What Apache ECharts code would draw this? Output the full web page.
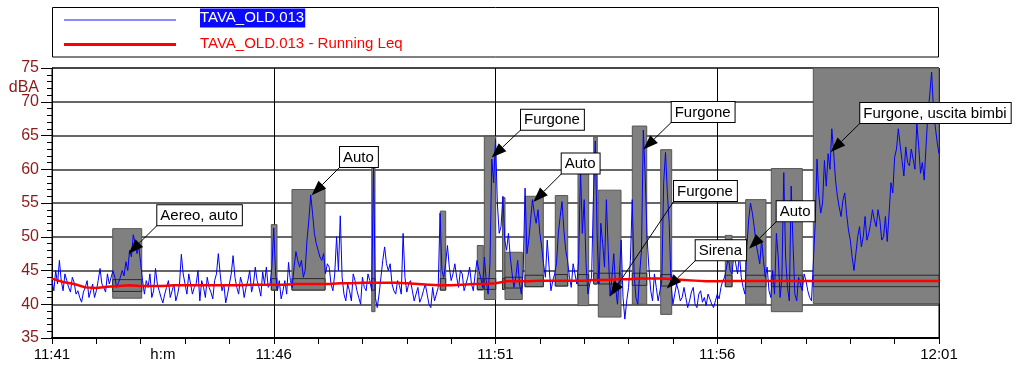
<!DOCTYPE html>
<html><head><meta charset="utf-8">
<script src="https://cdn.jsdelivr.net/npm/echarts@6/dist/echarts.min.js"></script>
<style>html,body{margin:0;padding:0;background:#fff}#c{width:1024px;height:369px}</style>
</head><body><div id="c"></div>
<script>
// ---- data (time in minutes from 11:41) ----
const levelStepMin = 2.5 / 60;
const levelValues = [
43.5,42.0,45.0,43.0,46.5,43.5,42.0,44.5,43.5,42.5,41.8,44.0,43.2,41.5,42.0,41.0,40.3,41.8,42.5,43.5,
41.0,42.0,43.0,41.0,42.0,43.5,45.3,43.0,42.5,41.8,44.5,43.0,42.8,45.0,44.0,42.5,43.2,44.0,45.0,44.2,
46.3,45.0,48.0,47.0,50.3,49.0,47.5,48.5,46.0,43.5,41.5,43.5,42.5,44.5,41.0,42.0,45.3,43.0,42.0,41.0,
40.2,41.5,42.5,43.5,41.0,42.0,43.0,40.5,41.5,43.0,47.4,44.5,43.0,41.5,44.5,43.0,41.5,42.5,43.0,45.0,
40.5,43.5,42.5,41.0,44.0,42.5,41.8,40.8,43.5,44.5,47.5,44.5,42.0,43.0,40.2,41.5,43.0,44.5,47.2,44.0,
42.5,41.5,44.0,43.0,41.0,42.5,43.5,45.0,41.8,43.0,45.5,43.5,42.5,41.2,44.8,43.0,45.5,42.5,43.0,45.5,
51.3,44.5,42.0,43.5,40.8,42.0,43.5,41.5,46.2,43.5,42.5,45.5,47.8,46.5,45.5,46.5,44.0,45.0,49.5,52.5,
56.2,53.5,50.5,49.0,48.0,47.0,46.5,47.5,44.5,46.0,45.5,43.0,42.0,44.5,50.0,45.0,53.1,44.0,41.5,40.5,
43.0,42.0,40.5,44.5,43.5,42.0,41.0,40.0,44.0,42.5,42.0,44.5,43.5,42.0,60.5,41.0,39.5,41.5,44.0,46.5,
48.5,46.0,45.0,46.0,43.0,42.0,41.5,43.5,42.8,41.5,50.5,44.0,41.8,43.0,43.5,42.0,40.5,41.5,42.5,40.3,
41.0,42.0,43.0,41.5,40.0,39.5,42.5,40.5,41.5,42.5,53.5,45.0,44.0,46.0,48.7,45.5,43.5,44.5,46.0,44.0,
42.5,45.0,44.5,42.0,43.0,44.0,45.5,43.0,42.0,44.5,46.5,45.0,44.0,42.5,47.0,43.5,41.5,46.0,61.5,58.0,
64.5,55.0,50.5,51.5,56.0,49.5,48.0,50.5,47.0,44.5,42.5,44.0,46.5,43.0,41.5,45.0,57.2,47.5,49.5,52.5,
55.5,53.5,52.0,54.0,50.5,48.5,46.0,44.0,49.5,45.5,42.0,43.5,44.5,46.0,50.5,53.0,55.2,51.0,48.0,46.5,
44.0,42.5,46.0,44.5,43.0,46.5,60.0,50.5,55.5,46.0,41.5,43.0,44.0,56.0,64.2,50.0,43.0,52.0,49.0,45.5,
55.5,48.0,41.2,44.0,47.5,42.5,40.0,44.0,49.5,41.0,37.8,40.5,42.5,46.5,55.5,44.5,41.0,40.0,44.5,48.0,
65.8,59.0,50.0,45.5,42.0,40.5,44.5,42.5,40.5,42.0,43.5,58.0,62.5,56.5,52.0,43.0,40.0,41.5,43.0,42.0,
40.5,41.0,42.5,41.0,39.5,40.5,41.8,42.5,40.0,39.5,41.5,42.0,40.3,41.0,39.8,41.5,40.8,40.0,39.5,40.5,
41.5,40.8,42.5,43.5,44.0,45.5,47.0,45.0,44.5,47.5,46.0,44.5,47.3,44.0,42.5,41.5,48.5,52.5,55.0,53.5,
51.5,49.0,47.5,46.0,49.5,46.5,44.0,45.5,42.0,41.0,45.0,41.5,50.5,47.0,41.0,44.0,59.5,47.0,42.5,40.5,
57.5,49.0,41.5,40.5,44.0,43.0,42.0,44.5,43.5,42.0,41.0,40.5,40.7,52.0,61.5,56.0,53.5,55.0,61.3,57.5,
62.3,60.0,66.0,62.5,58.4,56.0,54.4,53.0,55.4,56.5,53.4,51.0,49.5,47.0,45.0,47.5,50.0,51.5,48.5,50.0,
53.0,49.5,50.5,52.0,54.0,52.5,51.5,54.0,52.5,49.5,50.0,53.0,49.3,53.5,58.0,56.5,61.8,63.0,66.0,63.5,
61.3,59.0,63.3,61.0,60.5,63.0,62.8,60.0,66.8,63.5,59.4,61.0,58.4,63.5,68.3,71.0,74.4,69.0,66.3,64.0,
62.3
];
const leqStepMin = 15 / 60;
const leqValues = [
43.8,43.3,43.0,42.5,42.4,42.6,42.7,42.8,42.7,42.7,
42.7,42.8,42.8,42.8,42.8,42.8,42.8,42.8,42.9,42.9,
42.9,42.9,43.0,43.0,43.0,43.0,43.1,43.1,43.2,43.2,
43.2,43.2,43.1,43.0,42.9,42.8,42.8,42.9,43.0,43.0,
43.1,43.4,43.4,43.4,43.5,43.5,43.5,43.5,43.5,43.6,
43.6,43.7,43.7,43.8,43.8,43.8,43.7,43.6,43.5,43.4,
43.4,43.45,43.45,43.45,43.45,43.45,43.45,43.45,43.45,43.45,
43.45,43.45,43.45,43.45,43.45,43.45,43.45,43.45,43.45,43.45,
43.45
];
// event boxes
const boxStart = [1.369,4.945,5.411,7.209,8.755,9.590,9.748,10.158,10.214,10.665,11.348,11.860,12.214,12.318,13.085,13.725,15.182,15.641,16.219,17.166];
const boxEnd   = [2.023,5.073,6.156,7.283,8.877,9.725,10.005,10.214,10.604,11.078,11.628,12.101,12.295,12.830,13.410,13.973,15.333,16.099,16.918,20.0];
const boxLow   = [40.9,42.1,42.1,38.9,42.1,42.1,40.7,42.2,40.7,42.6,42.7,39.8,43.0,38.1,40.0,38.5,42.6,40.0,38.9,40.1];
const boxHigh  = [51.2,51.8,57.0,60.3,53.8,48.7,64.9,55.8,47.7,56.0,56.1,59.5,64.8,56.9,66.4,62.9,50.2,55.5,60.1,75.0];
const bandLow  = [41.9,42.1,42.1,42.1,42.1,42.2,42.2,42.2,42.4,42.6,42.7,42.8,43.0,43.0,42.8,42.7,42.6,42.6,42.6,42.6];
const bandHigh = [43.65,43.8,43.8,43.8,43.8,43.8,43.8,43.8,44.0,44.3,44.4,44.4,44.6,44.6,44.6,44.4,44.3,44.3,44.3,44.3];
// annotations
const noteText = ['Aereo, auto','Auto','Furgone','Auto','Furgone','Furgone','Sirena','Auto','Furgone, uscita bimbi'];
const noteT = [2.374,6.494,10.575,11.493,13.973,14.025,14.514,16.340,18.225];
const noteV = [51.7,60.33,65.87,59.36,67.0,55.3,46.51,52.29,66.85];
const tipT  = [1.727,5.856,9.914,10.852,13.333,12.582,13.860,15.716,17.558];
const tipV  = [47.5,56.14,61.73,55.15,62.91,41.18,42.32,48.24,62.56];
const xTickLabels = {0:'11:41',5:'11:46',10:'11:51',15:'11:56',20:'12:01'};
const seriesNames = ['TAVA_OLD.013','TAVA_OLD.013 - Running Leq'];

// ---- chart ----
const FONT = '"Liberation Sans", Arial, sans-serif';
const chart = echarts.init(document.getElementById('c'), null, {renderer:'canvas'});
const boxData = boxStart.map((s,i)=>[s, boxEnd[i], boxLow[i], boxHigh[i], bandLow[i], bandHigh[i]]);
const noteData = noteText.map((t,i)=>[noteT[i], noteV[i], tipT[i], tipV[i], i]);
const levelData = levelValues.map((v,i)=>[i*levelStepMin, v]);
const leqData = leqValues.map((v,i)=>[i*leqStepMin, v]);

chart.setOption({
  animation:false,
  backgroundColor:'#fff',
  grid:{left:52, right:85, top:68, bottom:31, show:true, borderColor:'#000', borderWidth:1, backgroundColor:'transparent'},
  xAxis:{type:'value', min:0, max:20, interval:5,
    axisLine:{show:true, onZero:false, lineStyle:{color:'#000', width:2}},
    axisTick:{show:true, length:6, lineStyle:{color:'#000'}},
    minorTick:{show:true, splitNumber:5, length:6, lineStyle:{color:'#000'}},
    axisLabel:{formatter:v=>xTickLabels[v]||'', color:'#000', fontSize:15, fontFamily:FONT, margin:9, showMinLabel:true, showMaxLabel:true},
    splitLine:{show:true, lineStyle:{color:'#000', width:1}}
  },
  yAxis:{type:'value', min:35, max:75, interval:5,
    axisLine:{show:true, lineStyle:{color:'#000', width:1}},
    axisTick:{show:true, length:11, lineStyle:{color:'#000'}},
    minorTick:{show:true, splitNumber:5, length:5, lineStyle:{color:'#000'}},
    axisLabel:{color:'#8b1a1a', fontSize:16, fontFamily:FONT, margin:13},
    splitLine:{show:true, lineStyle:{color:'#333', width:1.5}}
  },
  series:[
    {type:'custom', name:'events', clip:false, z:2, silent:true,
      data:boxData, encode:{x:[0,1], y:[2,3,4,5]},
      renderItem:(params, api)=>{
        const p0 = api.coord([api.value(0), api.value(3)]);
        const p1 = api.coord([api.value(1), api.value(2)]);
        const b0 = api.coord([api.value(0), api.value(5)]);
        const b1 = api.coord([api.value(1), api.value(4)]);
        return {type:'group', children:[
          {type:'rect', shape:{x:p0[0], y:p0[1], width:p1[0]-p0[0], height:p1[1]-p0[1]}, style:{fill:'#808080', stroke:'#555', lineWidth:1}},
          {type:'rect', shape:{x:b0[0], y:b0[1], width:b1[0]-b0[0], height:b1[1]-b0[1]}, style:{fill:'#7c7c7c', stroke:'#2a2a2a', lineWidth:1}}
        ]};
      }
    },
    {type:'line', name:seriesNames[0], data:levelData, showSymbol:false, z:3,
      lineStyle:{color:'#0000ff', width:1}, itemStyle:{color:'#0000ff'}},
    {type:'line', name:seriesNames[1], data:leqData, showSymbol:false, z:4,
      lineStyle:{color:'#ff0000', width:2.5}, itemStyle:{color:'#ff0000'}},
    {type:'custom', name:'notes', clip:false, z:5, silent:true,
      data:noteData, encode:{x:[0,2], y:[1,3]},
      renderItem:(params, api)=>{
        const a = api.coord([api.value(0), api.value(1)]);
        const t = api.coord([api.value(2), api.value(3)]);
        const dx = t[0]-a[0], dy = t[1]-a[1];
        const len = Math.sqrt(dx*dx+dy*dy);
        const ux = dx/len, uy = dy/len;
        const L = 15, W = 5.5;
        const bx = t[0]-ux*L, by = t[1]-uy*L;
        const nx = -uy, ny = ux;
        const txt = noteText[api.value(4)];
        return {type:'group', children:[
          {type:'line', shape:{x1:a[0], y1:a[1], x2:bx, y2:by}, style:{stroke:'#000', lineWidth:1}},
          {type:'polygon', shape:{points:[[t[0],t[1]],[bx+nx*W,by+ny*W],[bx-nx*W,by-ny*W]]}, style:{fill:'#000'}},
          {type:'text', x:a[0], y:a[1], style:{text:txt, font:'15px '+FONT, fill:'#000',
            align:'left', verticalAlign:'bottom', backgroundColor:'#fff', borderColor:'#000', borderWidth:1,
            padding:[2,4,1,3], lineHeight:17}}
        ]};
      }
    }
  ]
});

const hm = chart.convertToPixel({xAxisIndex:0}, 2.5);
chart.setOption({graphic:[
  {type:'rect', shape:{x:52.5, y:7.5, width:886, height:49.5}, style:{fill:'#fff', stroke:'#000', lineWidth:1}, z:10},
  {type:'line', shape:{x1:64, y1:20, x2:176, y2:20}, style:{stroke:'#6464ff', lineWidth:1.5}, z:11},
  {type:'line', shape:{x1:64, y1:44.5, x2:176, y2:44.5}, style:{stroke:'#ff0000', lineWidth:3}, z:11},
  {type:'text', x:200, y:18, style:{text:seriesNames[0], font:'15px '+FONT, fill:'#fff', backgroundColor:'#0a0aff',
     verticalAlign:'middle', align:'left', padding:[2,1,2,0]}, z:11},
  {type:'text', x:200, y:44, style:{text:seriesNames[1], font:'15px '+FONT, fill:'#ff0000', verticalAlign:'middle', align:'left'}, z:11},
  {type:'text', x:39, y:88, style:{text:'dBA', font:'16px '+FONT, fill:'#8b1a1a', align:'right', verticalAlign:'middle'}, z:11},
  {type:'text', x:hm, y:347, style:{text:'h:m', font:'15px '+FONT, fill:'#000', align:'center', verticalAlign:'top'}, z:11}
]});
</script></body></html>
